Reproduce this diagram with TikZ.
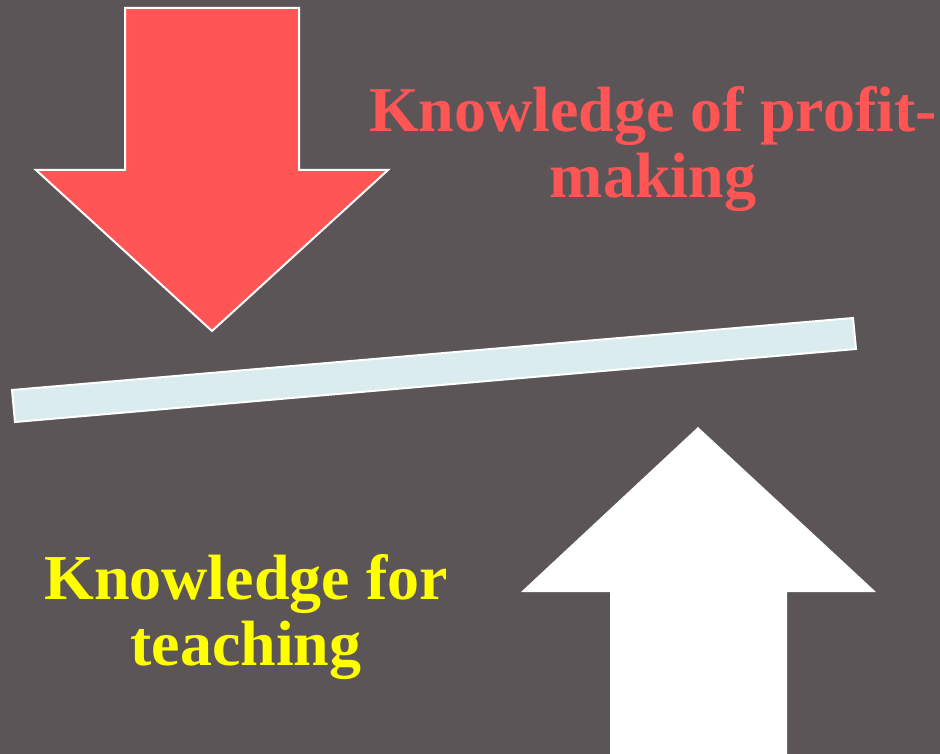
\documentclass[tikz,border=0pt]{standalone}
\usepackage{fontspec}
\setmainfont{Liberation Serif}
\definecolor{bgcol}{HTML}{5B5557}
\definecolor{redcol}{HTML}{FF5555}
\definecolor{barcol}{HTML}{DAECEE}
\definecolor{yelcol}{HTML}{FFFF00}
\tikzset{
  outlined/.style={draw=white, line width=2pt, line join=miter},
  bigtext/.style={font=\fontsize{64}{66}\selectfont\bfseries, align=center, inner sep=0pt, anchor=base},
}
\begin{document}
\begin{tikzpicture}[x=1pt,y=-1pt]
  \fill[bgcol] (0,0) rectangle (940,754);
  \useasboundingbox (0,0) rectangle (940,754);
  % red down arrow
  \path[fill=redcol, outlined] (125,8) -- (299,8) -- (299,170) -- (388,170) -- (212,331) -- (36,170) -- (125,170) -- cycle;
  % tilted bar
  \path[fill=barcol, outlined] (12,390) -- (853,318) -- (856,349) -- (15,422) -- cycle;
  % white up arrow
  \fill[white] (698,427) -- (876,592) -- (787,592) -- (787,760) -- (610,760) -- (610,592) -- (521,592) -- cycle;
  % texts
  \node[bigtext, text=redcol] (profit) at (653,198) {Knowledge of profit-\\making};
  \node[bigtext, text=yelcol] (teach) at (246,665) {Knowledge for\\teaching};
\end{tikzpicture}
\end{document}
